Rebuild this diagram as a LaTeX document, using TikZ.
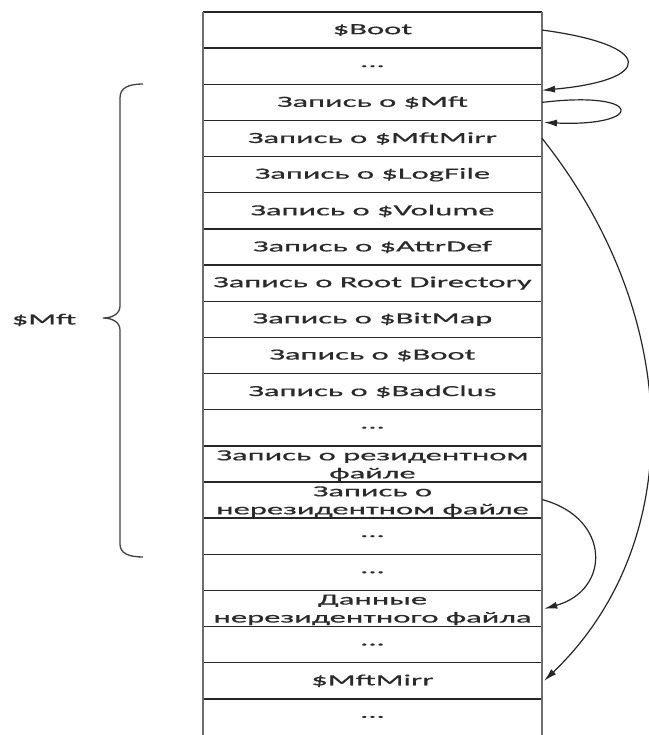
\documentclass[tikz,border=0pt]{standalone}
\usepackage{fontspec}
\newfontfamily\cf[FakeStretch=2.1,FakeBold=0.6]{Carlito}
\usetikzlibrary{arrows.meta}
\definecolor{txt}{HTML}{2A2A2A}
\definecolor{hline}{HTML}{262626}
\definecolor{vline}{HTML}{6E6E6E}
\tikzset{
  cell/.style={draw=none, minimum width=339pt, minimum height=36.15pt, inner sep=0pt,
    align=center, text=txt, font=\cf\fontsize{15.5}{18}\selectfont},
  hl/.style={draw=hline, line width=1.4pt},
  vl/.style={draw=vline, line width=2.8pt},
  conn/.style={draw=black!85, line width=1.2pt, -{Latex[length=13pt,width=7pt]}},
  brace/.style={draw=black!75, line width=1.3pt},
  lbl/.style={text=txt, font=\cf\fontsize{15.5}{18}\selectfont, inner sep=0pt}
}
\begin{document}
\begin{tikzpicture}[x=1pt,y=-1pt]
\useasboundingbox (0,0) rectangle (648,735);
\node[cell] (r1)  at (372.5, 30.08) {\$Boot};
\node[cell] (r2)  at (372.5, 66.23) {...};
\node[cell] (r3)  at (372.5,102.38) {Запись о \$Mft};
\node[cell] (r4)  at (372.5,138.53) {Запись о \$MftMirr};
\node[cell] (r5)  at (372.5,174.68) {Запись о \$LogFile};
\node[cell] (r6)  at (372.5,210.83) {Запись о \$Volume};
\node[cell] (r7)  at (372.5,246.98) {Запись о \$AttrDef};
\node[cell] (r8)  at (372.5,283.13) {Запись о Root Directory};
\node[cell] (r9)  at (372.5,319.28) {Запись о \$BitMap};
\node[cell] (r10) at (372.5,355.43) {Запись о \$Boot};
\node[cell] (r11) at (372.5,391.58) {Запись о \$BadClus};
\node[cell] (r12) at (372.5,427.73) {...};
\node[cell] (r13) at (372.5,465.6) {Запись о резидентном\\файле};
\node[cell] (r14) at (372.5,501.6) {Запись о\\нерезидентном файле};
\node[cell] (r15) at (372.5,536.18) {...};
\node[cell] (r16) at (372.5,572.33) {...};
\node[cell] (r17) at (372.5,609.8) {Данные\\нерезидентного файла};
\node[cell] (r18) at (372.5,644.63) {...};
\node[cell] (r19) at (372.5,680.78) {\$MftMirr};
\node[cell] (r20) at (372.5,716.93) {...};
% row boundaries (y positions)
\foreach \k in {1,...,20} {
  \pgfmathsetmacro\yy{12+\k*36.15}
  \coordinate (bl\k) at (203,\yy);
  \coordinate (br\k) at (542,\yy);
}
\coordinate (bl0) at (203,12);
\coordinate (br0) at (542,12);
\foreach \k in {0,...,19} {
  \draw[hl] (bl\k) -- (br\k);
}
% vertical borders
\draw[vl] (bl0) -- (bl20);
\draw[vl] (br0) -- (br20);
% connectors
\draw[conn] (r1.east) .. controls (655,45) and (655,80) .. ([yshift=-6pt]br2);
\draw[conn] (r3.east) .. controls (645,90) and (645,127) .. ([yshift=-2pt,xshift=2pt]br3);
\draw[conn] (r4.east) .. controls (686,320) and (686,545) .. ([xshift=2pt]r19.east);
\draw[conn] ([yshift=2pt]r14.east) .. controls (611,518) and (611,590) .. ([xshift=2pt,yshift=1pt]r17.east);
% brace
\coordinate (bt) at (143,84);
\coordinate (bm) at (103,318);
\coordinate (bb) at (143,557);
\draw[brace] (bt) .. controls (128,84) and (120,88) .. (120,98) -- (120,306)
  .. controls (120,314) and (112,318) .. (bm)
  .. controls (112,318) and (120,322) .. (120,330) -- (120,544)
  .. controls (120,553) and (128,557) .. (bb);
\node[lbl] (mft) at (44,320) {\$Mft};
\end{tikzpicture}
\end{document}
